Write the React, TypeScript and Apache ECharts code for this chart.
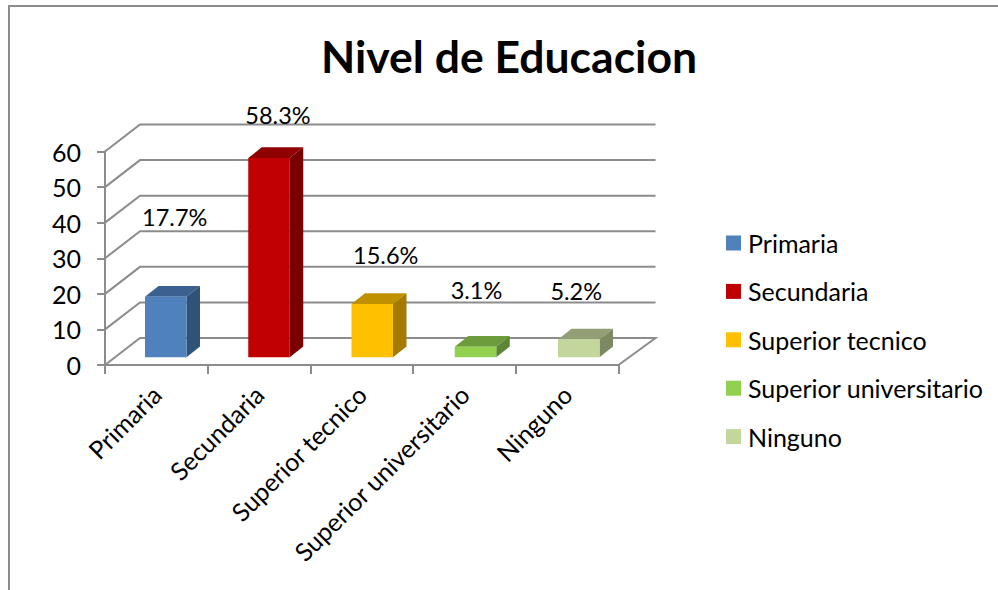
import React, { useEffect, useRef } from "react";
import * as echarts from "echarts";

// ---- data ----
const categories = ["Primaria", "Secundaria", "Superior tecnico", "Superior universitario", "Ninguno"];
const counts = [17, 56, 15, 3, 5];
const percentLabels = ["17.7%", "58.3%", "15.6%", "3.1%", "5.2%"];
const yTicks = [0, 10, 20, 30, 40, 50, 60];
const frontColors = ["#4F81BD", "#C00000", "#FFC000", "#92D050", "#C3D69B"];
const topColors = ["#3B6190", "#900000", "#BF9000", "#6D9C3C", "#929F74"];
const sideColors = ["#2F5279", "#7A0000", "#A37B00", "#5D8533", "#7D8963"];

// ---- layout of the fake 3D scene ----
const FONT = "Lato, Carlito, Calibri, sans-serif";
const GRID_COLOR = "#8C8C8C";
const WALL_DX = 35;
const WALL_DY = -27;
const BAR_WIDTH = 41.5;
const BAR_INSET_X = 40;
const BAR_STEP_EXTRA = 0.55;
const BAR_INSET_Y = -7.7;
const BAR_DX = 13.5;
const BAR_DY = -10.7;
const LABEL_LIFT = [80, 43, 49, 57, 49];
const LABEL_SHIFT = [9, 9, 13.5, 1, -2.5];

export default function App() {
  const ref = useRef<HTMLDivElement>(null);

  useEffect(() => {
    document.body.style.margin = "0";
    const chart = echarts.init(ref.current!, null, { renderer: "svg" });

    const wallSeries = {
      type: "custom",
      name: "wall",
      silent: true,
      z: 1,
      data: yTicks.map((v) => [0, v]),
      encode: { x: 0, y: 1 },
      renderItem: (_p: any, api: any) => {
        const v = api.value(1);
        const [x0, y] = api.coord([0, v]);
        const size = api.size([1, 0]);
        const x1 = x0 - size[0] / 2;
        const x2 = x1 + size[0] * categories.length;
        const pts =
          v === 0
            ? [[x1, y], [x1 + WALL_DX, y + WALL_DY], [x2 + WALL_DX + 2, y + WALL_DY], [x2, y]]
            : [[x1, y], [x1 + WALL_DX, y + WALL_DY], [x2 + WALL_DX + 2, y + WALL_DY]];
        return {
          type: "polyline",
          shape: { points: pts },
          style: { stroke: GRID_COLOR, lineWidth: 2, fill: "none" },
        };
      },
    };

    const barSeries = categories.map((name, i) => ({
      type: "custom",
      name,
      z: 3,
      itemStyle: { color: frontColors[i] },
      data: [[i, counts[i]]],
      encode: { x: 0, y: 1 },
      renderItem: (_p: any, api: any) => {
        const idx = api.value(0);
        const val = api.value(1);
        const [cx, yTop0] = api.coord([idx, val]);
        const [, yBase0] = api.coord([idx, 0]);
        const size = api.size([1, 0]);
        const xl = cx - size[0] / 2 + BAR_INSET_X + idx * BAR_STEP_EXTRA;
        const xr = xl + BAR_WIDTH;
        const yt = yTop0 + BAR_INSET_Y;
        const yb = yBase0 + BAR_INSET_Y;
        return {
          type: "group",
          children: [
            {
              type: "polygon",
              shape: { points: [[xl, yt], [xr, yt], [xr + BAR_DX, yt + BAR_DY], [xl + BAR_DX, yt + BAR_DY]] },
              style: { fill: topColors[i] },
            },
            {
              type: "polygon",
              shape: { points: [[xr, yt], [xr + BAR_DX, yt + BAR_DY], [xr + BAR_DX, yb + BAR_DY], [xr, yb]] },
              style: { fill: sideColors[i] },
            },
            {
              type: "rect",
              shape: { x: xl, y: yt, width: BAR_WIDTH, height: yb - yt },
              style: { fill: frontColors[i] },
            },
            {
              type: "text",
              x: (xl + xr) / 2 + LABEL_SHIFT[i],
              y: yt - LABEL_LIFT[i],
              style: {
                text: percentLabels[i],
                align: "center",
                verticalAlign: "middle",
                fill: "#000",
                fontFamily: FONT,
                fontSize: 23.5,
              },
            },
          ],
        };
      },
    }));

    chart.setOption({
      animation: false,
      backgroundColor: "#fff",
      title: {
        text: "Nivel de Educacion",
        left: 504,
        top: 28,
        textAlign: "center",
        textStyle: { fontFamily: FONT, fontSize: 44.5, fontWeight: "bold", color: "#000" },
      },
      legend: {
        data: categories,
        orient: "vertical",
        left: 726,
        top: 230.5,
        padding: 0,
        itemWidth: 15,
        itemHeight: 15,
        itemGap: 23.4,
        icon: "rect",
        textStyle: { fontFamily: FONT, fontSize: 25, color: "#000", padding: [0, 0, 0, 2] },
      },
      grid: { left: 105, top: 151.5, width: 513.5, height: 213.5, containLabel: false },
      xAxis: {
        type: "category",
        data: categories,
        axisLine: { show: true, onZero: false, lineStyle: { color: GRID_COLOR, width: 2 } },
        axisTick: { show: true, length: 9, lineStyle: { color: GRID_COLOR, width: 2 } },
        axisLabel: {
          interval: 0,
          rotate: 45,
          margin: 25,
          color: "#000",
          fontFamily: FONT,
          fontSize: 25,
          hideOverlap: false,
        },
        splitLine: { show: false },
      },
      yAxis: {
        type: "value",
        min: 0,
        max: 60,
        interval: 10,
        axisLine: { show: true, lineStyle: { color: GRID_COLOR, width: 2 } },
        axisTick: { show: true, length: 8, lineStyle: { color: GRID_COLOR, width: 2 } },
        axisLabel: { margin: 24, color: "#000", fontFamily: FONT, fontSize: 25 },
        splitLine: { show: false },
      },
      graphic: [
        {
          type: "polyline",
          silent: true,
          shape: { points: [[9, 590], [9, 6], [998, 6]] },
          style: { stroke: "#8C8C8C", lineWidth: 2, fill: "none" },
        },
      ],
      series: [wallSeries, ...barSeries],
    });

    return () => chart.dispose();
  }, []);

  return <div ref={ref} style={{ position: "absolute", left: 0, top: 0, width: 998, height: 590 }} />;
}
